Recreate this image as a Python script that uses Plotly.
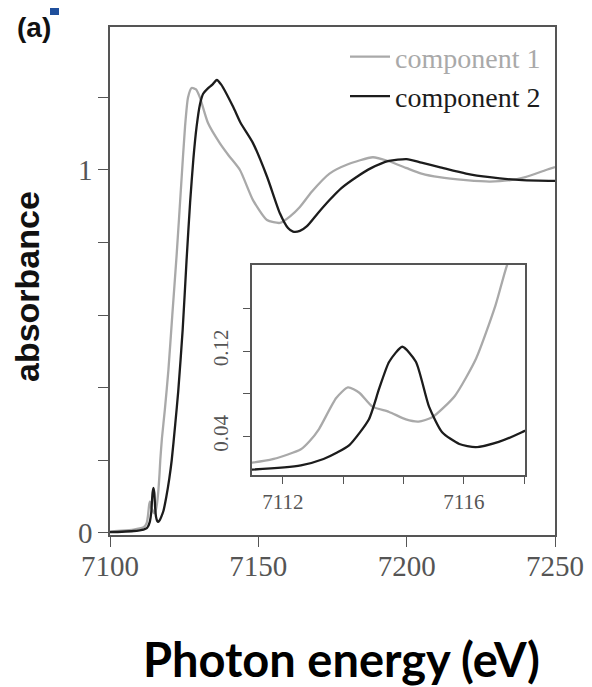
import plotly.graph_objects as go

# ---------------- data ----------------
energy1 = [7100, 7104, 7108, 7110, 7111.3, 7111.8, 7112.4, 7112.6, 7112.8, 7113.18,
           7113.44, 7113.69, 7113.98, 7114.35, 7114.72, 7115.0, 7115.3, 7115.8, 7116.27, 7116.7,
           7116.95, 7117.5, 7118.5, 7119.7, 7121, 7122.5, 7124, 7125.3, 7126.3, 7127.5,
           7129, 7130.3, 7133, 7137, 7140, 7143.8, 7148.2, 7152.9, 7157.3, 7160.7,
           7164, 7168, 7174, 7180, 7188.6, 7194, 7200, 7205, 7211, 7220,
           7228, 7235, 7240, 7247, 7250]
absorb1 = [0.004, 0.006, 0.009, 0.012, 0.0155, 0.019, 0.028, 0.036, 0.047, 0.076,
           0.086, 0.081, 0.068, 0.063, 0.056, 0.054, 0.058, 0.078, 0.113, 0.163,
           0.2, 0.26, 0.34, 0.45, 0.6, 0.77, 0.96, 1.12, 1.2, 1.226,
           1.222, 1.2, 1.13, 1.074, 1.04, 1.0, 0.917, 0.862, 0.854, 0.872,
           0.898, 0.94, 0.99, 1.015, 1.035, 1.024, 1.005, 0.99, 0.98, 0.972,
           0.968, 0.972, 0.98, 1.0, 1.008]

energy2 = [7100, 7104, 7108, 7110, 7111.3, 7112.4, 7112.9, 7113.2, 7113.47, 7113.9,
           7114.13, 7114.35, 7114.64, 7114.94, 7115.23, 7115.52, 7115.9, 7116.26, 7116.77, 7117.28,
           7118, 7119, 7120, 7120.8, 7122, 7123, 7124.5, 7125.8, 7127, 7128.1,
           7129.2, 7130.3, 7131.4, 7133, 7134.5, 7136, 7137.5, 7141.5, 7144, 7148.2,
           7153, 7157.3, 7160, 7161.7, 7164, 7166.4, 7170, 7174, 7178, 7183,
           7188, 7194, 7200, 7205, 7211, 7220, 7228, 7239, 7250]
absorb2 = [0.002, 0.003, 0.005, 0.007, 0.009, 0.013, 0.019, 0.025, 0.032, 0.056,
           0.085, 0.11, 0.124, 0.11, 0.068, 0.044, 0.033, 0.030, 0.035, 0.044,
           0.06, 0.1, 0.15, 0.2, 0.3, 0.39, 0.56, 0.75, 0.91, 1.03,
           1.12, 1.18, 1.21, 1.225, 1.235, 1.248, 1.235, 1.174, 1.13, 1.074,
           0.98, 0.88, 0.84, 0.83, 0.832, 0.845, 0.88, 0.917, 0.95, 0.98,
           1.005, 1.025, 1.03, 1.02, 1.008, 0.99, 0.98, 0.972, 0.97]

series_names = ["component 1", "component 2"]
series_colors = ["#a9a9a9", "#1c1c1c"]

main_xticks = [7100, 7150, 7200, 7250]
main_yticks = [0, 0.2, 0.4, 0.6, 0.8, 1.0, 1.2]
main_ytext = ["0", "", "", "", "", "1", ""]
inset_xticks = [7112, 7113.33, 7114.67, 7116, 7117.33]
inset_xtext = ["7112", "", "", "7116", ""]
inset_yticks = [0.04, 0.08, 0.12, 0.16]
inset_ytext = ["0.04", "", "0.12", ""]

# page body has an 8px margin; figure sized so page matches 592x687
OFF = 8
W, H = 592 - OFF, 687 - OFF


def px(X):
    return (X - OFF) / W


def py(Y):
    return 1 - (Y - OFF) / H


fig = go.Figure()
for xs, ys, nm, col in [(energy1, absorb1, series_names[0], series_colors[0]),
                        (energy2, absorb2, series_names[1], series_colors[1])]:
    fig.add_trace(go.Scatter(x=xs, y=ys, mode="lines",
                             name="<span style='color:%s'>%s</span>" % (col, nm),
                             line=dict(color=col, width=2.3, shape="spline", smoothing=0.6),
                             xaxis="x", yaxis="y"))
for xs, ys, col in [(energy1, absorb1, series_colors[0]), (energy2, absorb2, series_colors[1])]:
    fig.add_trace(go.Scatter(x=xs, y=ys, mode="lines", showlegend=False,
                             line=dict(color=col, width=2.3, shape="spline", smoothing=0.6),
                             xaxis="x2", yaxis="y2"))

serif = "Liberation Serif"
axis_common = dict(showline=True, linecolor="#555", linewidth=1.5, mirror=True,
                   ticks="outside", tickcolor="#555", showgrid=False, zeroline=False,
                   automargin=False, ticklabeloverflow="allow")

fig.update_layout(
    width=W, height=H, autosize=False,
    margin=dict(l=0, r=0, t=0, b=0),
    paper_bgcolor="white", plot_bgcolor="white",
    xaxis=dict(domain=[px(110), px(555)], range=[7100, 7250], tickvals=main_xticks,
               ticklen=10, ticklabelstandoff=-6,
               tickfont=dict(family=serif, size=29, color="#555"),
               anchor="y", **axis_common),
    yaxis=dict(domain=[py(535), py(27)], range=[-0.006, 1.394],
               tickvals=main_yticks, ticktext=main_ytext, ticklen=10,
               tickfont=dict(family=serif, size=29, color="#555"),
               anchor="x", **axis_common),
    xaxis2=dict(domain=[px(252), px(525)], range=[7111.32, 7117.35], tickvals=inset_xticks,
                ticktext=inset_xtext, ticklen=7,
                tickfont=dict(family=serif, size=21, color="#555"),
                anchor="y2", **axis_common),
    yaxis2=dict(domain=[py(475), py(265)], range=[0.004, 0.2005],
                tickvals=inset_yticks, ticktext=inset_ytext, ticklen=7, tickangle=-90,
                ticklabelstandoff=7,
                tickfont=dict(family=serif, size=21, color="#555"),
                anchor="x2", **axis_common),
    legend=dict(x=px(546), y=py(32), xanchor="right", yanchor="top",
                bgcolor="rgba(0,0,0,0)", font=dict(family=serif, size=28, color="#111"),
                itemwidth=40, tracegroupgap=0),
    showlegend=True,
)

fig.add_annotation(text="<b>absorbance</b>", textangle=-90, x=px(27), y=py(287),
                   xref="paper", yref="paper", showarrow=False,
                   xanchor="center", yanchor="middle",
                   font=dict(family="Liberation Sans", size=34, color="#111"))
fig.add_annotation(text="<b>Photon energy (eV)</b>", x=px(341), y=py(659),
                   xref="paper", yref="paper", showarrow=False,
                   xanchor="center", yanchor="middle",
                   font=dict(family="Lato", size=47, color="#000"))
fig.add_annotation(text="<b>(a)</b>", x=px(34), y=py(27),
                   xref="paper", yref="paper", showarrow=False,
                   xanchor="center", yanchor="middle",
                   font=dict(family="Liberation Sans", size=28, color="#111"))
fig.add_shape(type="rect", xref="paper", yref="paper",
              x0=px(50), x1=px(59), y0=py(15), y1=1.0,
              fillcolor="#1f4f9c", line=dict(width=0))

fig.write_html("out.html")
